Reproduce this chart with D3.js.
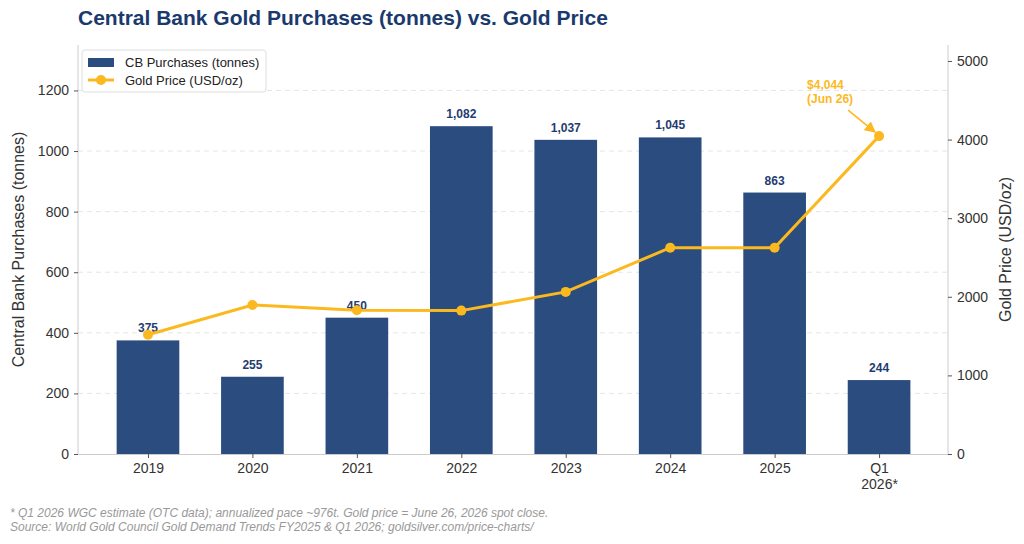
<!DOCTYPE html>
<html>
<head>
<meta charset="utf-8">
<script src="https://cdn.jsdelivr.net/npm/d3@7"></script>
<style>
  body { margin: 0; background: #fff; }
  svg { font-family: "Liberation Sans", Arial, sans-serif; }
  .tick text { font-size: 14px; fill: #333; }
  .tick line { stroke: #555; }
  .domain { stroke: #ccc; }
</style>
</head>
<body>
<svg id="chart" width="1024" height="544"></svg>
<script>
'use strict';

var categories = ['2019', '2020', '2021', '2022', '2023', '2024', '2025', 'Q1\n2026*'];
var purchases = [375, 255, 450, 1082, 1037, 1045, 863, 244];
var goldPrice = [1517, 1896, 1829, 1824, 2062, 2624, 2624, 4044];
var leftTicks = [0, 200, 400, 600, 800, 1000, 1200];
var rightTicks = [0, 1000, 2000, 3000, 4000, 5000];

var margin = { top: 45, right: 76, bottom: 90, left: 78 },
    width = 1024 - margin.left - margin.right,
    height = 544 - margin.top - margin.bottom;

var svg = d3.select('#chart');
var g = svg.append('g').attr('transform', 'translate(' + margin.left + ',' + margin.top + ')');

var x = d3.scaleLinear().domain([-0.67, categories.length - 1 + 0.66]).range([0, width]);
var step = x(1) - x(0), barW = step * 0.6;
var yL = d3.scaleLinear().domain([0, 1350]).range([height, 0]);
var yR = d3.scaleLinear().domain([0, 5203]).range([height, 0]);

// grid
g.selectAll('.grid').data(leftTicks.slice(1))
  .enter().append('line')
  .attr('x1', 0).attr('x2', width)
  .attr('y1', function(d) { return yL(d); })
  .attr('y2', function(d) { return yL(d); })
  .attr('stroke', '#e2e2e2').attr('stroke-dasharray', '5,4').attr('stroke-width', 0.9);

// bars
g.selectAll('.bar').data(purchases)
  .enter().append('rect')
  .attr('x', function(d, i) { return x(i) - barW / 2; })
  .attr('y', function(d) { return yL(d); })
  .attr('width', barW)
  .attr('height', function(d) { return height - yL(d); })
  .attr('fill', '#2b4c7e');

g.selectAll('.barlabel').data(purchases)
  .enter().append('text')
  .attr('x', function(d, i) { return x(i); })
  .attr('y', function(d) { return yL(d) - 8; })
  .attr('text-anchor', 'middle')
  .attr('font-size', 12).attr('font-weight', 'bold').attr('fill', '#1f3c70')
  .text(function(d) { return d3.format(',')(d); });

// axes
var xAxis = g.append('g').attr('transform', 'translate(0,' + height + ')')
  .call(d3.axisBottom(x).tickValues(d3.range(categories.length)).tickSize(4).tickSizeOuter(0).tickFormat(''));
xAxis.selectAll('.tick').each(function(d) {
  var lines = categories[d].split('\n');
  var t = d3.select(this).append('text').attr('y', 19).attr('text-anchor', 'middle');
  lines.forEach(function(l, k) {
    t.append('tspan').attr('x', 0).attr('dy', k ? 16 : 0).text(l);
  });
});

var leftAxis = g.append('g')
  .call(d3.axisLeft(yL).tickValues(leftTicks).tickFormat(d3.format('d')).tickSize(4).tickSizeOuter(0).tickPadding(5));
var rightAxis = g.append('g').attr('transform', 'translate(' + width + ',0)')
  .call(d3.axisRight(yR).tickValues(rightTicks).tickFormat(d3.format('d')).tickSize(4).tickSizeOuter(0).tickPadding(5));
[leftAxis, rightAxis].forEach(function(a) {
  a.select('.domain').attr('d', 'M0,0V' + height);
});

// gold line
var line = d3.line()
  .x(function(d, i) { return x(i); })
  .y(function(d) { return yR(d); });
g.append('path').datum(goldPrice)
  .attr('d', line).attr('fill', 'none')
  .attr('stroke', '#fbb91f').attr('stroke-width', 3);
g.selectAll('.pt').data(goldPrice)
  .enter().append('circle')
  .attr('cx', function(d, i) { return x(i); })
  .attr('cy', function(d) { return yR(d); })
  .attr('r', 5).attr('fill', '#fbb91f');

// annotation
var last = goldPrice.length - 1;
var defs = svg.append('defs');
defs.append('marker').attr('id', 'arr').attr('viewBox', '0 0 10 10')
  .attr('refX', 9).attr('refY', 5).attr('markerWidth', 7).attr('markerHeight', 7)
  .attr('orient', 'auto')
  .append('path').attr('d', 'M0,0L10,5L0,10z').attr('fill', '#fbb91f');
g.append('line')
  .attr('x1', x(last) - 31).attr('y1', yR(goldPrice[last]) - 26)
  .attr('x2', x(last) - 4).attr('y2', yR(goldPrice[last]) - 4)
  .attr('stroke', '#fbb91f').attr('stroke-width', 1.6)
  .attr('marker-end', 'url(#arr)');
var ann = g.append('text')
  .attr('x', x(last) - 72).attr('y', yR(goldPrice[last]) - 47)
  .attr('font-size', 12).attr('font-weight', 'bold').attr('fill', '#fbb91f');
ann.append('tspan').attr('x', x(last) - 72).text('$' + d3.format(',')(goldPrice[last]));
ann.append('tspan').attr('x', x(last) - 72).attr('dy', 14).text('(Jun 26)');

// axis titles
svg.append('text')
  .attr('transform', 'translate(24,' + (margin.top + height / 2) + ') rotate(-90)')
  .attr('text-anchor', 'middle').attr('font-size', 16).attr('fill', '#333')
  .text('Central Bank Purchases (tonnes)');
svg.append('text')
  .attr('transform', 'translate(1011,' + (margin.top + height / 2) + ') rotate(-90)')
  .attr('text-anchor', 'middle').attr('font-size', 16).attr('fill', '#333')
  .text('Gold Price (USD/oz)');

// title
svg.append('text')
  .attr('x', 78).attr('y', 25)
  .attr('font-size', 21).attr('font-weight', 'bold').attr('fill', '#1a3a6e')
  .text('Central Bank Gold Purchases (tonnes) vs. Gold Price');

// legend
var lg = g.append('g').attr('transform', 'translate(4,5)');
lg.append('rect').attr('width', 184).attr('height', 42).attr('rx', 3)
  .attr('fill', '#fff').attr('fill-opacity', 0.85).attr('stroke', '#ddd');
lg.append('rect').attr('x', 6).attr('y', 8).attr('width', 26).attr('height', 9).attr('fill', '#2b4c7e');
lg.append('line').attr('x1', 6).attr('x2', 32).attr('y1', 30).attr('y2', 30)
  .attr('stroke', '#fbb91f').attr('stroke-width', 3);
lg.append('circle').attr('cx', 19).attr('cy', 30).attr('r', 5).attr('fill', '#fbb91f');
lg.append('text').attr('x', 43).attr('y', 17).attr('font-size', 13).attr('fill', '#222').text('CB Purchases (tonnes)');
lg.append('text').attr('x', 43).attr('y', 35).attr('font-size', 13).attr('fill', '#222').text('Gold Price (USD/oz)');

// footnote
var notes = [
  '* Q1 2026 WGC estimate (OTC data); annualized pace ~976t. Gold price = June 26, 2026 spot close.',
  'Source: World Gold Council Gold Demand Trends FY2025 & Q1 2026; goldsilver.com/price-charts/'
];
svg.selectAll('.note').data(notes).enter().append('text')
  .attr('x', 10).attr('y', function(d, i) { return 517 + i * 14; })
  .attr('font-size', 12).attr('font-style', 'italic').attr('fill', '#999')
  .text(function(d) { return d; });
</script>
</body>
</html>
